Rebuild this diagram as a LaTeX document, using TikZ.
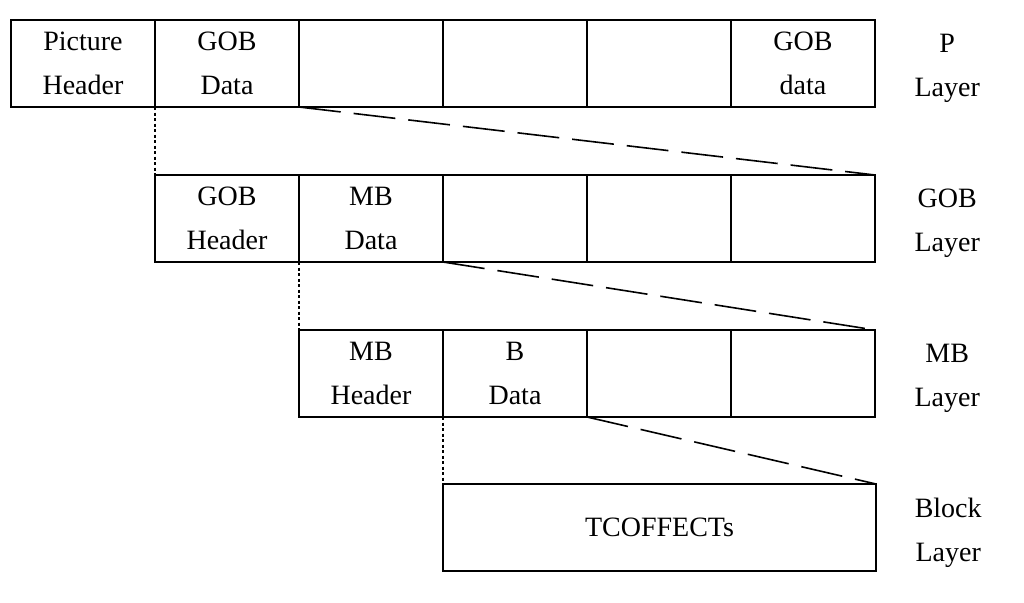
\documentclass[tikz,border=0pt]{standalone}
\usepackage{fontspec}
\setmainfont{Liberation Serif}
\usepackage{tikz}
\usetikzlibrary{positioning}
\tikzset{
    cell/.style={rectangle, draw=black, line width=2pt, outer sep=0pt, inner sep=0pt, minimum width=144pt, minimum height=87pt, align=center, font=\fontsize{28}{44}\selectfont},
    lbl/.style={text width=80pt, align=center, inner sep=0pt, yshift=-5pt, font=\fontsize{28}{44}\selectfont},
    zoomline/.style={line width=1.6pt, dash pattern=on 42pt off 13pt},
    dropline/.style={line width=2.6pt, dash pattern=on 3pt off 2.5pt}
}
\begin{document}
\begin{tikzpicture}[x=1pt, y=-1pt]
    \useasboundingbox (0,0) rectangle (1024,602);
    % P layer
    \node[cell, anchor=north west] (phdr) at (11,20) {Picture\\Header};
    \node[cell, right=0pt of phdr] (pgob) {GOB\\Data};
    \node[cell, right=0pt of pgob] (p3) {};
    \node[cell, right=0pt of p3] (p4) {};
    \node[cell, right=0pt of p4] (p5) {};
    \node[cell, right=0pt of p5] (p6) {GOB\\data};
    \node[lbl, right=32pt of p6] (plbl) {P\\Layer};
    % GOB layer
    \node[cell, below=68pt of pgob] (ghdr) {GOB\\Header};
    \node[cell, right=0pt of ghdr] (gmb) {MB\\Data};
    \node[cell, right=0pt of gmb] (g3) {};
    \node[cell, right=0pt of g3] (g4) {};
    \node[cell, right=0pt of g4] (g5) {};
    \node[lbl, right=32pt of g5] (glbl) {GOB\\Layer};
    % MB layer
    \node[cell, below=68pt of gmb] (mhdr) {MB\\Header};
    \node[cell, right=0pt of mhdr] (mblk) {B\\Data};
    \node[cell, right=0pt of mblk] (m3) {};
    \node[cell, right=0pt of m3] (m4) {};
    \node[lbl, right=32pt of m4] (mlbl) {MB\\Layer};
    % Block layer
    \node[cell, minimum width=433pt, below=67pt of mblk.south west, anchor=north west] (coef) {TCOFFECTs};
    \node[lbl, right=32pt of coef] (blbl) {Block\\Layer};

    \draw[dropline] (pgob.south west) -- (ghdr.north west);
    \draw[dropline] (gmb.south west) -- (mhdr.north west);
    \draw[dropline] (mblk.south west) -- (coef.north west);
    \draw[zoomline] (pgob.south east) -- (g5.north east);
    \draw[zoomline] (gmb.south east) -- (m4.north east);
    \draw[zoomline] (mblk.south east) -- (coef.north east);
\end{tikzpicture}
\end{document}
